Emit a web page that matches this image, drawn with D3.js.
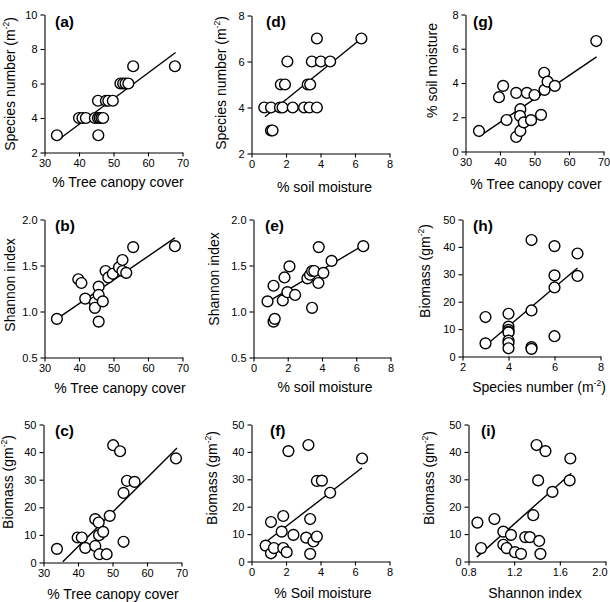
<!DOCTYPE html>
<html><head><meta charset="utf-8">
<script src="https://cdn.jsdelivr.net/npm/d3@7"></script>
<style>
body{margin:0;background:#fff}
svg{display:block}
text{font-family:"Liberation Sans",Arial,Helvetica,sans-serif;fill:#000}
</style>
</head><body>
<svg id="chart" width="610" height="602"></svg>
<script>
// ---------- data ----------
// (a) species number vs tree canopy cover
const aCanopy  = [33.6,45.6,40,41,42,44.6,45.5,46,46.5,47,45.5,47.8,48.5,49.8,52,52.8,53.5,54.3,55.7,67.8];
const aSpecies = [3,3,4,4,4,4,4,4,4,4,5,5,5,5,6,6,6,6,7,7];
const aLine    = [[34.9,2.87],[68,7.8]];
// (d) species number vs soil moisture
const dMoist   = [0.74,1.13,1.13,1.22,1.65,1.8,1.7,1.94,2.08,2.39,3.05,3.26,3.4,3.36,3.79,3.5,3.79,4.02,4.56,6.37];
const dSpecies = [4,4,3,3,4,4,5,5,6,4,4,5,5,4,4,6,7,6,6,7];
const dLine    = [[0.78,3.6],[6.37,7.0]];
// (g) soil moisture vs tree canopy cover
const gCanopy  = [33.9,39.7,40.9,41.9,44.7,44.7,45.9,45.9,45.8,46.9,47.8,49,50,51.9,52.8,52.9,53.8,55.9,67.9];
const gMoist   = [1.2,3.17,3.83,1.84,3.42,0.85,2.47,1.2,2.08,1.7,3.42,1.83,3.3,2.14,4.6,3.6,4.08,3.83,6.45];
const gLine    = [[33.9,0.87],[68,5.53]];
// (b) Shannon index vs tree canopy cover
const bCanopy  = [33.6,39.8,40.7,41.8,44.6,44.6,45.7,45.7,45.7,46.9,47.7,48.5,49.8,51.6,52.6,52.6,53.7,55.7,67.8];
const bShannon = [0.92,1.35,1.31,1.14,1.10,1.04,1.27,1.18,0.89,1.11,1.44,1.37,1.41,1.48,1.56,1.44,1.42,1.7,1.71];
const bLine    = [[33.6,0.92],[67.8,1.80]];
// (e) Shannon index vs soil moisture
const eMoist   = [0.82,1.17,1.17,1.24,1.71,1.81,1.98,2.1,2.43,3.15,3.3,3.42,3.42,3.55,3.79,3.81,4.08,4.56,6.41];
const eShannon = [1.11,1.28,0.89,0.92,1.12,1.37,1.21,1.49,1.18,1.36,1.40,1.44,1.04,1.44,1.31,1.7,1.42,1.55,1.71];
const eLine    = [[0.78,1.10],[6.41,1.72]];
// (h) biomass vs species number
const hSpecies = [3,3,4,4,4,4,4,4,4,4,5,5,5,5,6,6,6,6,7,7];
const hBiomass = [4.8,14.4,15.6,10.9,9.7,9.0,8.8,5.8,4.9,3.0,42.5,16.8,3.4,2.8,40.3,29.6,25.2,7.4,37.6,29.4];
const hLine    = [[3.03,4.2],[7.0,32.3]];
// (c) biomass vs tree canopy cover
const cCanopy  = [33.9,39.9,41.1,42.1,45.0,45.0,46.0,46.1,46.2,47.3,48.3,49.2,50.2,52.2,53.2,53.2,54.2,56.4,68.4];
const cBiomass = [4.95,9.06,9.06,5.3,15.7,6.0,14.5,9.9,3.0,11.1,3.0,16.9,42.5,40.3,25.2,7.5,29.6,29.2,37.7];
const cLine    = [[35.6,0.24],[68.7,41.5]];
// (f) biomass vs soil moisture
const fMoist   = [0.82,1.13,1.13,1.3,1.75,1.84,1.84,2.04,2.14,2.43,3.17,3.3,3.4,3.4,3.59,3.79,3.79,4.08,4.56,6.41];
const fBiomass = [5.8,14.4,3.0,4.9,10.9,16.6,4.9,3.4,40.3,9.7,8.7,42.5,15.5,2.8,7.3,9.1,29.4,29.5,25.1,37.6];
const fLine    = [[0.87,7.3],[6.41,34.2]];
// (i) biomass vs Shannon index
const iShannon = [0.878,0.91,1.027,1.105,1.105,1.134,1.172,1.207,1.26,1.297,1.337,1.367,1.396,1.41,1.419,1.43,1.474,1.535,1.692,1.686];
const iBiomass = [14.2,4.9,15.5,10.9,6.1,4.9,9.7,3.4,2.8,8.9,8.9,16.9,42.5,29.6,7.5,2.8,40.3,25.4,37.6,29.6];
const iLine    = [[0.873,1.6],[1.70,32.2]];

// ---------- tick values ----------
const ticksCanopy  = [30,40,50,60,70];
const ticksMoist   = [0,2,4,6,8];
const ticksSpecA   = [2,4,6,8,10];
const ticksSpecD   = [2,4,6,8];
const ticksMoistY  = [0,2,4,6,8];
const ticksShannonY= [0.5,1.0,1.5,2.0];
const ticksBiomass = [0,10,20,30,40,50];
const ticksSpecH   = [2,4,6,8];
const ticksShannonX= [0.8,1.2,1.6,2.0];

// ---------- panels ----------
const panels = [
 {lab:"(a)", x:aCanopy, y:aSpecies, line:aLine, xd:[30,70], yd:[2,10], xt:ticksCanopy, yt:ticksSpecA, xf:"d", yf:"d",
  xTitle:[{t:"% Tree canopy cover"}], yTitle:[{t:"Species number (m"},{t:"-2",sup:true},{t:")"}]},
 {lab:"(d)", x:dMoist, y:dSpecies, line:dLine, xd:[0,8], yd:[2,8], xt:ticksMoist, yt:ticksSpecD, xf:"d", yf:"d",
  xTitle:[{t:"% soil moisture"}], yTitle:[{t:"Species number (m"},{t:"-2",sup:true},{t:")"}]},
 {lab:"(g)", x:gCanopy, y:gMoist, line:gLine, xd:[30,70], yd:[0,8], xt:ticksCanopy, yt:ticksMoistY, xf:"d", yf:"d",
  xTitle:[{t:"% Tree canopy cover"}], yTitle:[{t:"% soil moisture"}]},
 {lab:"(b)", x:bCanopy, y:bShannon, line:bLine, xd:[30,70], yd:[0.5,2.0], xt:ticksCanopy, yt:ticksShannonY, xf:"d", yf:".1f",
  xTitle:[{t:"% Tree canopy cover"}], yTitle:[{t:"Shannon index"}]},
 {lab:"(e)", x:eMoist, y:eShannon, line:eLine, xd:[0,8], yd:[0.5,2.0], xt:ticksMoist, yt:ticksShannonY, xf:"d", yf:".1f",
  xTitle:[{t:"% soil moisture"}], yTitle:[{t:"Shannon index"}]},
 {lab:"(h)", x:hSpecies, y:hBiomass, line:hLine, xd:[2,8], yd:[0,50], xt:ticksSpecH, yt:ticksBiomass, xf:"d", yf:"d",
  xTitle:[{t:"Species number (m"},{t:"-2",sup:true},{t:")"}], yTitle:[{t:"Biomass (gm"},{t:"-2",sup:true},{t:")"}]},
 {lab:"(c)", x:cCanopy, y:cBiomass, line:cLine, xd:[30,70], yd:[0,50], xt:ticksCanopy, yt:ticksBiomass, xf:"d", yf:"d",
  xTitle:[{t:"% Tree canopy cover"}], yTitle:[{t:"Biomass (gm"},{t:"-2",sup:true},{t:")"}]},
 {lab:"(f)", x:fMoist, y:fBiomass, line:fLine, xd:[0,8], yd:[0,50], xt:ticksMoist, yt:ticksBiomass, xf:"d", yf:"d",
  xTitle:[{t:"% Soil moisture"}], yTitle:[{t:"Biomass (gm"},{t:"-2",sup:true},{t:")"}]},
 {lab:"(i)", x:iShannon, y:iBiomass, line:iLine, xd:[0.8,2.0], yd:[0,50], xt:ticksShannonX, yt:ticksBiomass, xf:".1f", yf:"d",
  xTitle:[{t:"Shannon index"}], yTitle:[{t:"Biomass (gm"},{t:"-2",sup:true},{t:")"}]}
];

// layout: plot box [left,right,top,bottom], y-title baseline x & centre y, x-title centre x & baseline y, label pos
const layout = [
 {b:[44.5,182.5,14.5,152.5], yt:[14.5,84],  xt:[118,187], lb:[55,27]},
 {b:[251.5,389.5,15.5,153.5],yt:[225.5,83], xt:[324.5,192], lb:[266,27]},
 {b:[465.5,603.5,14.5,151.5],yt:[437,70.5], xt:[536,189], lb:[473,27]},
 {b:[44.5,182.5,219.5,357.5],yt:[15,285],   xt:[120,393], lb:[55,231]},
 {b:[253.5,390.5,219.5,357.5],yt:[219,279], xt:[325,392], lb:[265,231]},
 {b:[462.5,600.5,219.5,356.5],yt:[430,271], xt:[539,392], lb:[473,231]},
 {b:[43.5,181.5,424.5,562.5],yt:[13,482],   xt:[113,599], lb:[55,436]},
 {b:[251.5,389.5,424.5,561.5],yt:[217,478], xt:[323,598], lb:[270,436]},
 {b:[468.5,605.5,424.5,561.5],yt:[434,478], xt:[535,598], lb:[481,436], lastLabelShift:-6}
];

const svg = d3.select("#chart");

function addRich(sel, parts){
  let prevSup = false;
  parts.forEach(p=>{
    if(p.sup){
      sel.append("tspan").attr("dy",-6).attr("font-size",8.5).text(p.t);
    } else {
      const ts = sel.append("tspan").text(p.t);
      if(prevSup) ts.attr("dy",6);
    }
    prevSup = !!p.sup;
  });
}

panels.forEach((p,k)=>{
  const L = layout[k];
  const [x0,x1,y0,y1] = L.b;
  const xs = d3.scaleLinear().domain(p.xd).range([x0,x1]);
  const ys = d3.scaleLinear().domain(p.yd).range([y1,y0]);
  const g = svg.append("g");

  const xa = g.append("g").attr("transform",`translate(0,${y1})`)
    .call(d3.axisBottom(xs).tickValues(p.xt).tickFormat(d3.format(p.xf)).tickSizeOuter(0).tickSizeInner(4).tickPadding(3));
  const ya = g.append("g").attr("transform",`translate(${x0},0)`)
    .call(d3.axisLeft(ys).tickValues(p.yt).tickFormat(d3.format(p.yf)).tickSizeOuter(0).tickSizeInner(4).tickPadding(3));
  [xa,ya].forEach(a=>{
    a.selectAll("path,line").attr("stroke","#000").attr("stroke-width",1.1);
    a.selectAll("text").attr("font-size",11).attr("fill","#000")
     .style("font-family",'"Liberation Sans",Arial,sans-serif');
  });
  if(L.lastLabelShift){
    const ts = xa.selectAll(".tick text").nodes();
    d3.select(ts[ts.length-1]).attr("dx",L.lastLabelShift);
  }

  // regression line
  g.append("line")
    .attr("x1",xs(p.line[0][0])).attr("y1",ys(p.line[0][1]))
    .attr("x2",xs(p.line[1][0])).attr("y2",ys(p.line[1][1]))
    .attr("stroke","#000").attr("stroke-width",1.4);

  // points
  const pts = p.x.map((v,i)=>[v,p.y[i]]);
  g.selectAll("circle.pt").data(pts).join("circle").attr("class","pt")
    .attr("cx",d=>xs(d[0])).attr("cy",d=>ys(d[1])).attr("r",5.4)
    .attr("fill","#fff").attr("stroke","#000").attr("stroke-width",1.4);

  // panel label
  g.append("text").attr("x",L.lb[0]).attr("y",L.lb[1])
    .attr("font-size",15.5).attr("font-weight","bold").text(p.lab);

  // x title
  const xtTxt = g.append("text").attr("x",L.xt[0]).attr("y",L.xt[1])
    .attr("text-anchor","middle").attr("font-size",14);
  addRich(xtTxt, p.xTitle);

  // y title
  const ytTxt = g.append("text")
    .attr("transform",`translate(${L.yt[0]},${L.yt[1]}) rotate(-90)`)
    .attr("text-anchor","middle").attr("font-size",14);
  addRich(ytTxt, p.yTitle);
});
</script>
</body></html>
